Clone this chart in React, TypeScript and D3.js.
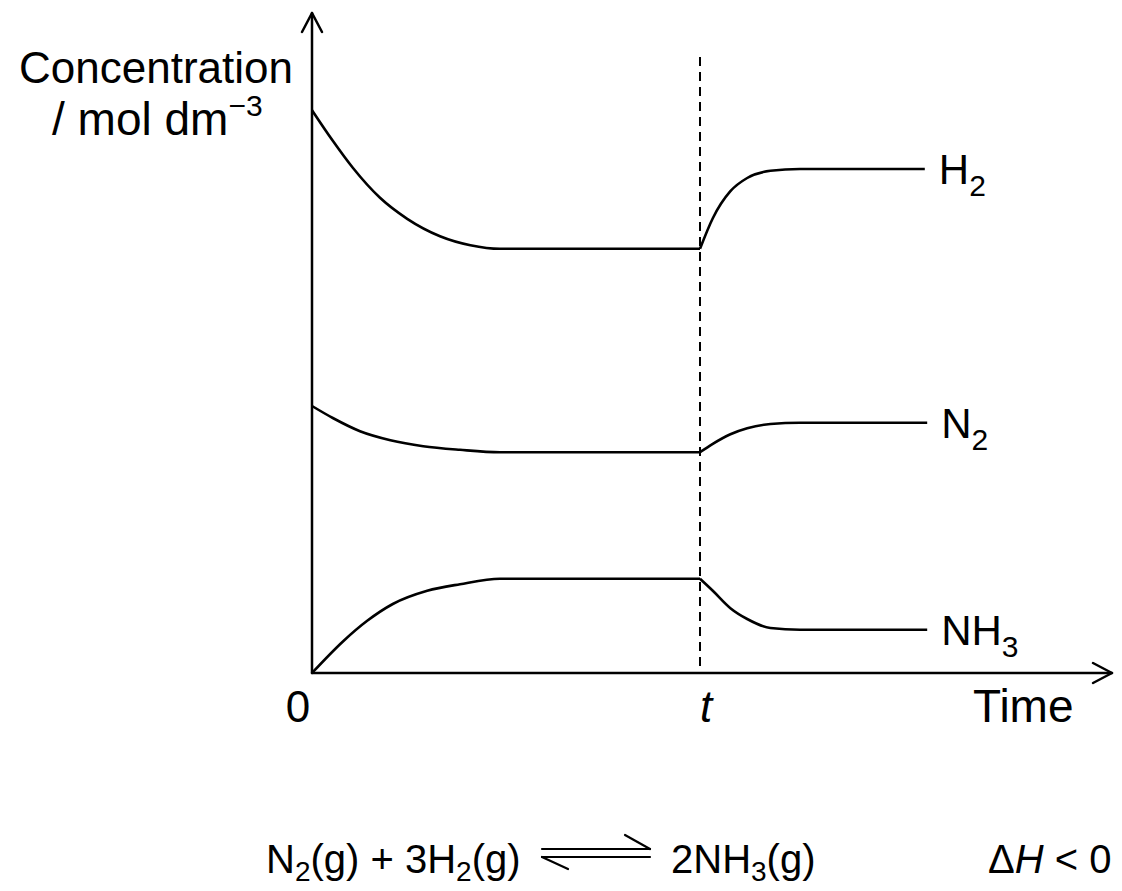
import React from "react";
import * as d3 from "d3";

// ---- data (arbitrary concentration units vs. time units) ----
const T_CHANGE = 4.85;

const h2Times = [0, 0.26, 0.51, 0.85, 1.19, 1.6, 1.98, 2.35, 4.85, 5.01, 5.23, 5.44, 5.73, 6.1, 7.66];
const h2Conc = [9.38, 8.87, 8.42, 7.92, 7.57, 7.28, 7.13, 7.07, 7.07, 7.58, 8.03, 8.25, 8.37, 8.4, 8.4];

const n2Times = [0, 0.26, 0.6, 0.98, 1.39, 1.85, 2.35, 4.85, 5.01, 5.23, 5.44, 5.73, 6.1, 7.69];
const n2Conc = [4.45, 4.25, 4.03, 3.88, 3.78, 3.72, 3.68, 3.68, 3.82, 3.98, 4.08, 4.15, 4.17, 4.17];

const nh3Times = [0, 0.39, 0.69, 1.01, 1.44, 1.85, 2.35, 4.85, 5.01, 5.23, 5.44, 5.73, 6.1, 7.69];
const nh3Conc = [0, 0.53, 0.87, 1.15, 1.37, 1.48, 1.57, 1.57, 1.37, 1.08, 0.9, 0.75, 0.72, 0.72];

const seriesNames = ["H", "N", "NH"];
const seriesSubs = ["2", "2", "3"];

const X_MAX = 10;
const Y_MAX = 10;

const W = 1122;
const H = 891;
const FONT = "'Liberation Sans', Arial, Helvetica, sans-serif";

export default function App() {
  const x = d3.scaleLinear().domain([0, X_MAX]).range([312, 1112]);
  const y = d3.scaleLinear().domain([0, Y_MAX]).range([673, 73]);

  const series = [
    { t: h2Times, c: h2Conc },
    { t: n2Times, c: n2Conc },
    { t: nh3Times, c: nh3Conc },
  ];

  const line = d3
    .line<[number, number]>()
    .x((d) => x(d[0]))
    .y((d) => y(d[1]))
    .curve(d3.curveMonotoneX);

  const pieces = series.map((s) => {
    const pts: [number, number][] = s.t.map((tt, i) => [tt, s.c[i]]);
    const before = pts.filter((p) => p[0] <= T_CHANGE);
    const after = pts.filter((p) => p[0] >= T_CHANGE);
    return { before, after, last: pts[pts.length - 1] };
  });

  const x0 = x(0);
  const y0 = y(0);
  const xEnd = x(X_MAX);
  const yTop = 13;
  const tx = x(T_CHANGE);

  const eqBase = 873;
  const arrowL = 542;
  const arrowR = 650;
  const upY = eqBase - 24;
  const loY = eqBase - 16;

  return (
    <svg
      width={W}
      height={H}
      style={{ position: "absolute", left: 0, top: 0, background: "#fff" }}
      fontFamily={FONT}
    >
      <rect x={0} y={0} width={W} height={H} fill="#fff" />
      {/* axes */}
      <g stroke="#000" strokeWidth={2.5} fill="none" strokeLinecap="round" strokeLinejoin="round">
        <line x1={x0} y1={y0} x2={x0} y2={yTop} />
        <polyline points={`${x0 - 10},${yTop + 19} ${x0},${yTop} ${x0 + 10},${yTop + 19}`} />
        <line x1={x0} y1={y0} x2={xEnd} y2={y0} />
        <polyline points={`${xEnd - 19},${y0 - 10} ${xEnd},${y0} ${xEnd - 19},${y0 + 10}`} />
      </g>

      {/* dashed line at t */}
      <line
        x1={tx}
        x2={tx}
        y1={57}
        y2={667}
        stroke="#000"
        strokeWidth={2}
        strokeDasharray="9,6"
      />

      {/* curves */}
      <g stroke="#000" strokeWidth={2.6} fill="none" strokeLinejoin="round">
        {pieces.map((p, i) => (
          <g key={i}>
            <path d={line(p.before) || ""} />
            <path d={line(p.after) || ""} />
          </g>
        ))}
      </g>

      {/* series labels */}
      <g fontSize={42} fill="#000">
        {pieces.map((p, i) => (
          <text key={i} x={x(p.last[0]) + 14} y={y(p.last[1]) + 15}>
            {seriesNames[i]}
            <tspan fontSize={30} dy={12}>
              {seriesSubs[i]}
            </tspan>
          </text>
        ))}
      </g>

      {/* y axis title */}
      <text x={156} y={83} fontSize={44} textAnchor="middle" fill="#000">
        Concentration
      </text>
      <text x={52} y={135} fontSize={46} fill="#000">
        / mol dm
        <tspan fontSize={30} dy={-19}>
          −3
        </tspan>
      </text>

      {/* x axis labels */}
      <text x={x(0) - 14} y={722} fontSize={44} textAnchor="middle" fill="#000">
        0
      </text>
      <text x={tx + 6} y={722} fontSize={44} textAnchor="middle" fontStyle="italic" fill="#000">
        t
      </text>
      <text x={973} y={722} fontSize={46} fill="#000">
        Time
      </text>

      {/* equation */}
      <g fontSize={40} fill="#000">
        <text x={266} y={eqBase}>
          N<tspan fontSize={28} dy={8}>2</tspan>
          <tspan dy={-8}>(g) + 3H</tspan>
          <tspan fontSize={28} dy={8}>2</tspan>
          <tspan dy={-8}>(g)</tspan>
        </text>
        <text x={671} y={eqBase}>
          2NH<tspan fontSize={28} dy={8}>3</tspan>
          <tspan dy={-8}>(g)</tspan>
        </text>
        <text x={988} y={eqBase}>
          Δ<tspan fontStyle="italic">H</tspan> &lt; 0
        </text>
      </g>
      <g stroke="#000" strokeWidth={2.2} fill="none" strokeLinecap="round">
        <line x1={arrowL} y1={upY} x2={arrowR} y2={upY} />
        <line x1={arrowR} y1={upY} x2={arrowR - 25} y2={upY - 14} />
        <line x1={arrowL} y1={loY} x2={arrowR} y2={loY} />
        <line x1={arrowL} y1={loY} x2={arrowL + 26} y2={loY + 12} />
      </g>
    </svg>
  );
}
